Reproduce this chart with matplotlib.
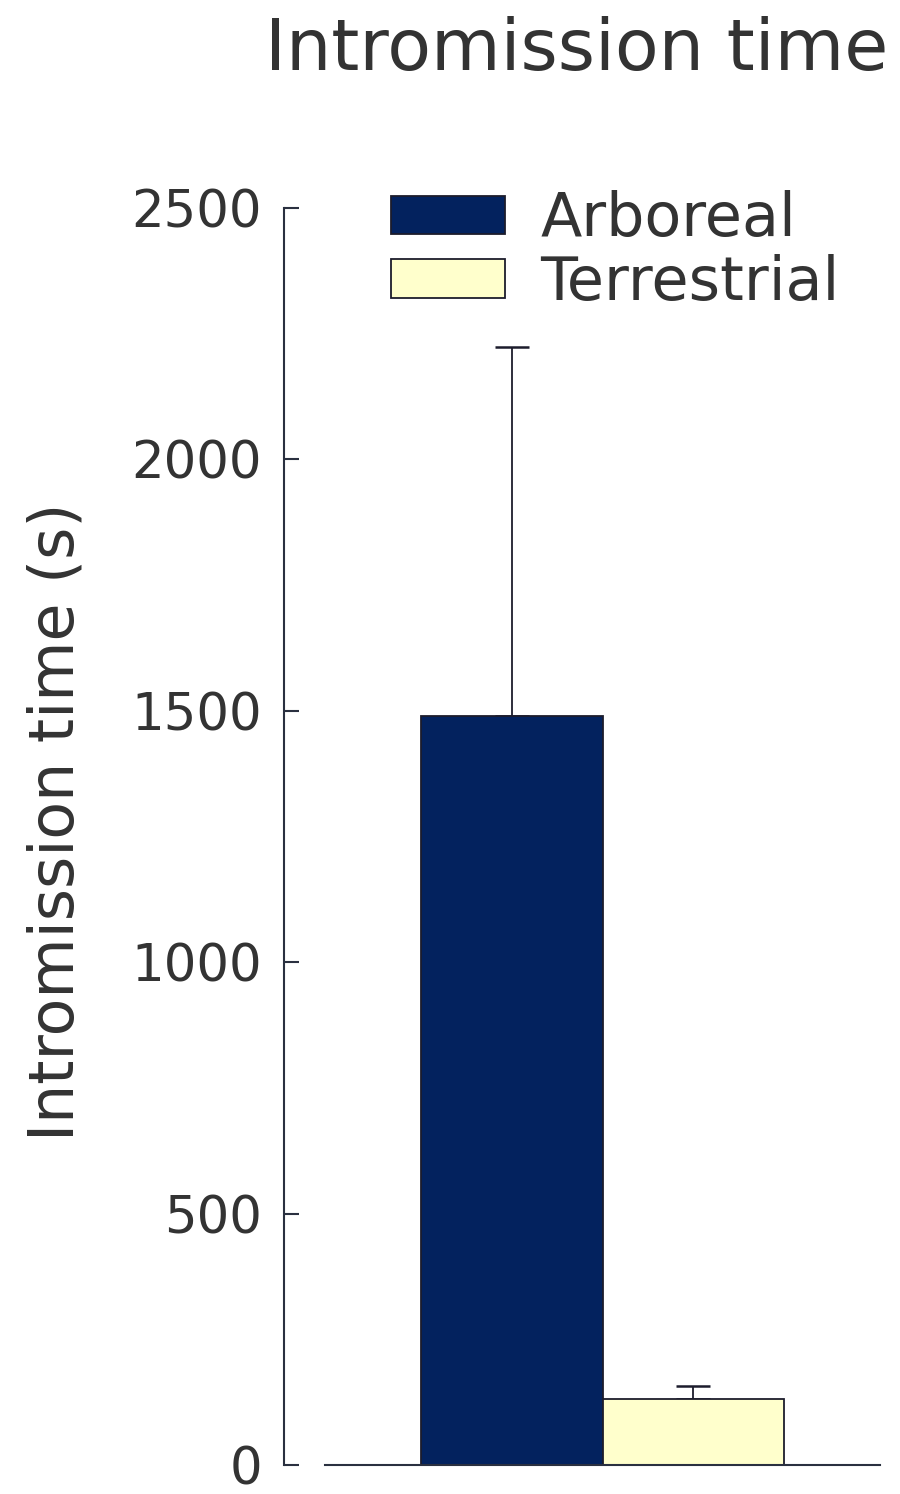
import matplotlib
matplotlib.use("Agg")
import matplotlib.pyplot as plt

groups = ["Arboreal", "Terrestrial"]
means = [1490, 131]
errors = [734, 26]
colors = ["#03225e", "#ffffcc"]
yticks = [0, 500, 1000, 1500, 2000, 2500]

plt.rcParams['font.family'] = ['DejaVu Sans']
fig = plt.figure(figsize=(9, 14.94), dpi=100)
ax = fig.add_axes([325 / 900, 29 / 1494, 555 / 900, 1257 / 1494])

edge = "#1c1c2c"
for i in range(len(groups)):
    ax.bar(i, means[i], width=1.0, color=colors[i], edgecolor=edge,
           linewidth=1.3, label=groups[i], zorder=2)
    ax.errorbar(i, means[i], yerr=[[0], [errors[i]]], fmt='none',
                ecolor=edge, elinewidth=1.3, capsize=12.5, capthick=1.8, zorder=1)

ax.set_xlim(-1.025, 2.025)
ax.set_ylim(0, 2500)
ax.set_yticks(yticks)
ax.set_xticks([])
ax.spines['top'].set_visible(False)
ax.spines['right'].set_visible(False)
ax.spines['left'].set_position(('outward', 29.5))
ax.spines['left'].set_bounds(0, 2500)
for s in ['left', 'bottom']:
    ax.spines[s].set_linewidth(1.5)
    ax.spines[s].set_color("#2a3040")
ax.tick_params(axis='y', direction='in', length=11, width=1.5, color="#2a3040",
               labelsize=37, pad=16, labelcolor="#333333")

ax.legend(loc='upper left', bbox_to_anchor=(391 / 900, 1 - 190 / 1494),
          bbox_transform=fig.transFigure, frameon=False, fontsize=43.5,
          handlelength=1.89, handleheight=0.6, handletextpad=0.58,
          labelspacing=0.08, borderpad=0, borderaxespad=0, labelcolor="#333333")

fig.text(57 / 900, 1 - 822 / 1494, "Intromission time (s)", rotation=90,
         ha='center', va='center', fontsize=44.5, color="#333333")
fig.text(577 / 900, 1 - 70 / 1494, "Intromission time", ha='center',
         va='baseline', fontsize=51.5, color="#333333")

fig.savefig("out.png", dpi=100)
